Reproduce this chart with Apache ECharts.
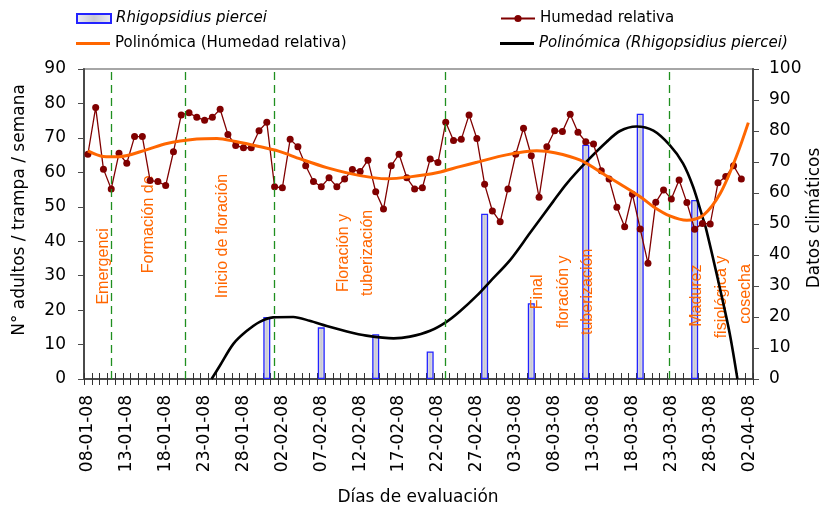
<!DOCTYPE html>
<html>
<head>
<meta charset="utf-8">
<script src="https://cdn.jsdelivr.net/npm/echarts@6.0.0/dist/echarts.min.js"></script>
<style>
  html, body { margin: 0; padding: 0; background: #fff; }
  #chart { width: 838px; height: 512px; }
</style>
</head>
<body>
<div id="chart"></div>
<script>
// ---- Evaluation days: 8 Jan 2008 to 2 Apr 2008 (dd-mm-yy) ----
const firstDay = Date.UTC(2008, 0, 8);
const dayCount = 86;
const days = [];
for (let i = 0; i < dayCount; i++) {
  const d = new Date(firstDay + i * 86400000);
  const dd = String(d.getUTCDate()).padStart(2, '0');
  const mm = String(d.getUTCMonth() + 1).padStart(2, '0');
  days.push(dd + '-' + mm + '-08');
}

// ---- Relative humidity (%), daily, right axis ----
const humidity = [
  72.5, 87.6, 67.7, 61.3, 72.8, 69.6, 78.2, 78.2, 64.0, 63.7,
  62.4, 73.3, 85.2, 85.9, 84.4, 83.5, 84.4, 87.0, 78.9, 75.3,
  74.6, 74.6, 80.1, 82.8, 62.0, 61.7, 77.3, 74.9, 68.8, 63.7,
  62.0, 64.9, 62.0, 64.5, 67.6, 66.9, 70.6, 60.4, 54.8, 68.8,
  72.5, 64.9, 61.3, 61.7, 71.0, 69.8, 82.8, 76.9, 77.3, 85.2,
  77.6, 62.8, 54.2, 50.7, 61.3, 72.5, 80.9, 72.0, 58.6, 74.9,
  80.1, 79.8, 85.4, 79.6, 76.5, 75.8, 67.2, 64.5, 55.4, 49.1,
  59.6, 48.4, 37.3, 57.0, 61.0, 58.1, 64.2, 56.9, 48.3, 50.2,
  50.0, 63.3, 65.3, 68.8, 64.5
];

// ---- Rhigopsidius piercei: adults / trap / week, left axis ----
const trapDates = ['31-01-08', '07-02-08', '14-02-08', '21-02-08', '28-02-08',
                   '05-03-08', '12-03-08', '19-03-08', '26-03-08'];
const trapAdults = [18, 15, 13, 8, 48, 22, 68, 77, 52];

// ---- Polynomial trend of humidity: [day index, %] ----
const humidityTrend = [
  [0, 73.6], [2, 71.8], [4, 71.7], [7.6, 74.0], [10, 75.9], [14, 77.4],
  [16.6, 77.6], [19, 76.6], [22, 75.0], [24.5, 73.5], [27.3, 71.0],
  [30.7, 68.2], [35, 65.6], [38.4, 64.6], [41.4, 65.2], [45, 66.6],
  [47.8, 68.5], [50, 69.9], [53.8, 72.3], [57.7, 73.6], [60, 73.0],
  [63.3, 70.6], [66.7, 65.5], [68.4, 62.9], [71, 58.8], [72.7, 55.6],
  [74.8, 52.6], [77, 51.2], [79.1, 52.8], [81.3, 59.9], [83.4, 72.0],
  [84.9, 82.7]
];

// ---- Polynomial trend of the weevil counts: [day index, adults] ----
const adultsTrend = [
  [15.9, 0], [17.0, 4.0], [18.7, 10.2], [20.4, 13.9], [22.1, 16.6],
  [23.8, 17.9], [26.4, 18.0], [28.5, 16.9], [30.7, 15.4], [33.3, 13.8],
  [35.8, 12.6], [39.3, 11.8], [41.4, 12.3], [44, 14.0], [46.1, 16.6],
  [47.8, 19.6], [50, 24.2], [51.7, 28.3], [54.3, 34.6], [56.8, 42.3],
  [59.8, 51.5], [61.5, 56.6], [64.1, 63.1], [66.7, 68.9], [68.4, 72.0],
  [70.5, 73.3], [72.7, 72.1], [74.8, 67.9], [76.5, 62.6], [77.8, 55.8],
  [79, 47.1], [79.5, 43.3], [81.2, 26.8], [82.5, 13.3], [83.5, 0]
];

// ---- Crop phenology: boundaries (day index) and phase names ----
const phaseBoundaries = [3.05, 12.5, 24.0, 46.0, 74.7];
const phaseNames = ['Emergenci', 'Formación de', 'Inicio de floración',
  'Floración y', 'tuberización', 'Final', 'floración y', 'tuberización',
  'Madurez', 'fisiológica y', 'cosecha'];
// anchor of each phase name: [day index, left-axis level]
const phaseAnchors = [[2.07, 32.7], [7.85, 44.9], [17.3, 41.5],
  [32.9, 36.6], [36.0, 36.6], [57.85, 25.3], [61.2, 25.3], [64.3, 25.3],
  [78.3, 24.2], [81.5, 23.8], [84.6, 24.7]];

// ---- Series names ----
const nameTrap = 'Rhigopsidius piercei';
const nameHum = 'Humedad relativa';
const nameHumTrend = 'Polinómica (Humedad relativa)';
const nameTrapTrend = 'Polinómica (Rhigopsidius piercei)';

const trapSeriesData = days.map(d => {
  const k = trapDates.indexOf(d);
  return k >= 0 ? trapAdults[k] : '-';
});
const humiditySeriesData = days.map((d, i) => i < humidity.length ? humidity[i] : '-');

const mainFont = 'DejaVu Sans';
const axisGray = '#4a4a4a';

const chart = echarts.init(document.getElementById('chart'), null, { renderer: 'canvas' });

const legendBase = {
  orient: 'horizontal',
  padding: 0,
  itemWidth: 34,
  itemHeight: 9,
  itemGap: 0,
  selectedMode: false,
  textStyle: { fontFamily: mainFont, fontSize: 15, color: '#000' }
};

const option = {
  animation: false,
  backgroundColor: '#fff',
  grid: {
    left: 84, right: 85, top: 69, bottom: 133,
    show: true, borderColor: '#a6a6a6', borderWidth: 2, backgroundColor: 'transparent'
  },
  legend: [
    Object.assign({}, legendBase, { left: 76, top: 11, icon: 'rect',
      data: [{ name: nameTrap, textStyle: { fontStyle: 'italic' } }] }),
    Object.assign({}, legendBase, { left: 500, top: 11, data: [nameHum] }),
    Object.assign({}, legendBase, { left: 76, top: 36, icon: 'rect', itemHeight: 3,
      data: [nameHumTrend] }),
    Object.assign({}, legendBase, { left: 500, top: 36, icon: 'rect', itemHeight: 3,
      data: [{ name: nameTrapTrend, textStyle: { fontStyle: 'italic' } }] })
  ],
  xAxis: [
    {
      type: 'category', data: days, boundaryGap: true, position: 'bottom',
      axisLine: { onZero: false, lineStyle: { color: axisGray, width: 2 } },
      axisTick: { show: true, interval: 0, length: 6, lineStyle: { color: '#333', width: 1 } },
      axisLabel: { interval: 4, rotate: 90, margin: 16, color: '#000',
        fontFamily: mainFont, fontSize: 17 },
      splitLine: { show: false }
    },
    {
      type: 'value', min: -0.5, max: 85.5, show: false,
      axisLine: { onZero: false }
    },
    {
      type: 'category', data: days, boundaryGap: true, position: 'bottom',
      axisLine: { show: false, onZero: false },
      axisTick: { show: true, inside: true, interval: 0, length: 6, lineStyle: { color: '#333', width: 1 } },
      axisLabel: { show: false },
      splitLine: { show: false }
    }
  ],
  yAxis: [
    {
      type: 'value', min: 0, max: 90, interval: 10, position: 'left',
      axisLine: { show: true, onZero: false, lineStyle: { color: axisGray, width: 2 } },
      axisTick: { show: true, length: 6, lineStyle: { color: axisGray } },
      axisLabel: { margin: 18, color: '#000', fontFamily: mainFont, fontSize: 17 },
      splitLine: { show: false }
    },
    {
      type: 'value', min: 0, max: 100, interval: 10, position: 'right',
      axisLine: { show: true, onZero: false, lineStyle: { color: axisGray, width: 2 } },
      axisTick: { show: true, length: 6, lineStyle: { color: axisGray } },
      axisLabel: { margin: 16, color: '#000', fontFamily: mainFont, fontSize: 17 },
      splitLine: { show: false }
    }
  ],
  series: [
    {
      name: nameTrap, type: 'bar', xAxisIndex: 0, yAxisIndex: 0,
      data: trapSeriesData, barWidth: 7, z: 2,
      itemStyle: {
        color: new echarts.graphic.LinearGradient(0, 0, 1, 0, [
          { offset: 0, color: '#ededf5' },
          { offset: 0.5, color: '#c9c9d1' },
          { offset: 1, color: '#ededf5' }
        ]),
        borderColor: '#2323ff', borderWidth: 1.3
      }
    },
    {
      name: nameTrapTrend, type: 'line', xAxisIndex: 1, yAxisIndex: 0,
      data: adultsTrend, smooth: 0.3, symbol: 'none', z: 3,
      lineStyle: { color: '#000', width: 2.6 }, itemStyle: { color: '#000' },
      markLine: {
        silent: true, symbol: 'none', label: { show: false },
        lineStyle: { color: '#1f8f1f', width: 1.3, type: [8, 5] },
        data: phaseBoundaries.map(v => ({ xAxis: v }))
      }
    },
    {
      name: nameHum, type: 'line', xAxisIndex: 0, yAxisIndex: 1,
      data: humiditySeriesData, symbol: 'circle', symbolSize: 7, showAllSymbol: true, z: 4,
      lineStyle: { color: '#800000', width: 1.3 },
      itemStyle: { color: '#800000' }
    },
    {
      name: nameHumTrend, type: 'line', xAxisIndex: 1, yAxisIndex: 1,
      data: humidityTrend, smooth: 0.3, symbol: 'none', z: 5,
      lineStyle: { color: '#ff6600', width: 3 }, itemStyle: { color: '#ff6600' }
    }
  ]
};

chart.setOption(option);

// Phase names and axis titles, placed after the axes are laid out
const phaseGraphics = phaseNames.map((txt, i) => {
  const px = chart.convertToPixel({ xAxisIndex: 1 }, phaseAnchors[i][0]);
  const py = chart.convertToPixel({ yAxisIndex: 0 }, phaseAnchors[i][1]);
  return {
    type: 'text', x: px, y: py, rotation: Math.PI / 2, z: 3,
    style: { text: txt, fill: '#ff6600', fontFamily: 'Liberation Sans', fontSize: 16,
      align: 'center', verticalAlign: 'middle' }
  };
});

const titleGraphics = [
  { type: 'text', x: 20, y: 210, rotation: Math.PI / 2,
    style: { text: 'N° adultos / trampa / semana', fill: '#000', fontFamily: mainFont,
      fontSize: 17, align: 'center', verticalAlign: 'middle' } },
  { type: 'text', x: 815, y: 218, rotation: Math.PI / 2,
    style: { text: 'Datos climáticos', fill: '#000', fontFamily: mainFont,
      fontSize: 17, align: 'center', verticalAlign: 'middle' } },
  { type: 'text', x: 418, y: 498,
    style: { text: 'Días de evaluación', fill: '#000', fontFamily: mainFont,
      fontSize: 17, align: 'center', verticalAlign: 'middle' } }
];

chart.setOption({ graphic: phaseGraphics.concat(titleGraphics) });
</script>
</body>
</html>
